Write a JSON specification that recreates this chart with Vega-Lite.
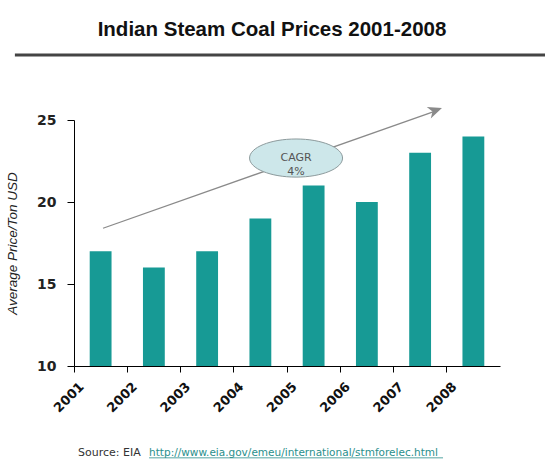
{
  "$schema": "https://vega.github.io/schema/vega-lite/v6.json",
  "width": 426,
  "height": 246,
  "autosize": "none",
  "padding": {"left": 74, "top": 120, "right": 45, "bottom": 98},
  "background": "white",
  "config": {"view": {"stroke": null}, "font": "Liberation Sans"},
  "title": {
    "text": "Indian Steam Coal Prices 2001-2008",
    "font": "Liberation Sans",
    "fontSize": 20.5,
    "fontWeight": "bold",
    "color": "#111111",
    "anchor": "middle",
    "frame": "group",
    "dx": -15,
    "offset": 13
  },
  "layer": [
    {
      "data": {
        "values": [
          {"year": "2001", "price": 17},
          {"year": "2002", "price": 16},
          {"year": "2003", "price": 17},
          {"year": "2004", "price": 19},
          {"year": "2005", "price": 21},
          {"year": "2006", "price": 20},
          {"year": "2007", "price": 23},
          {"year": "2008", "price": 24}
        ]
      },
      "mark": {"type": "bar", "width": {"band": 0.41}, "color": "#179a95"},
      "encoding": {
        "x": {
          "field": "year",
          "type": "ordinal",
          "scale": {"paddingInner": 0, "paddingOuter": 0},
          "axis": {
            "title": null,
            "labelAngle": -45,
            "bandPosition": 0,
            "labelOffset": -23,
            "labelFont": "DejaVu Sans",
            "labelFontSize": 13,
            "labelFontWeight": "bold",
            "labelColor": "#111111",
            "domainColor": "#000000",
            "tickColor": "#000000",
            "tickSize": 6,
            "labelPadding": 8,
            "grid": false
          }
        },
        "y": {
          "field": "price",
          "type": "quantitative",
          "scale": {"domain": [10, 25], "nice": false, "zero": false},
          "axis": {
            "values": [10, 15, 20, 25],
            "title": "Average Price/Ton USD",
            "titleFont": "Liberation Sans",
            "titleFontStyle": "italic",
            "titleFontWeight": "normal",
            "titleFontSize": 13.5,
            "titleColor": "#222222",
            "titlePadding": 17,
            "labelFont": "DejaVu Sans",
            "labelFontSize": 14,
            "labelFontWeight": "bold",
            "labelColor": "#222222",
            "domainColor": "#000000",
            "tickColor": "#000000",
            "tickSize": 7,
            "labelPadding": 11,
            "grid": false
          }
        },
        "y2": {"datum": 10}
      }
    },
    {
      "data": {"values": [{"cagr": "CAGR\n4%", "source": "Source:  EIA", "url": "http://www.eia.gov/emeu/international/stmforelec.html"}]},
      "layer": [
        {
          "mark": {"type": "rule", "color": "#444444", "strokeWidth": 3, "clip": false},
          "encoding": {
            "x": {"datum": -1.11, "type": "quantitative", "scale": {"domain": [0, 8], "nice": false, "zero": false}, "axis": null},
            "x2": {"datum": 8.85},
            "y": {"datum": 28.96, "type": "quantitative", "scale": {"domain": [10, 25]}}
          }
        },
        {
          "mark": {"type": "rule", "color": "#8a8a8a", "strokeWidth": 1.3, "clip": false},
          "encoding": {
            "x": {"datum": 0.545, "type": "quantitative", "scale": {"domain": [0, 8], "nice": false, "zero": false}, "axis": null},
            "x2": {"datum": 6.85},
            "y": {"datum": 18.4, "type": "quantitative", "scale": {"domain": [10, 25]}},
            "y2": {"datum": 25.62}
          }
        },
        {
          "mark": {"type": "point", "shape": "M 0 0 L 0.6 1.4 L 0 1 L -0.6 1.4 Z", "filled": true, "color": "#8a8a8a", "size": 400, "angle": 70.4, "opacity": 1, "clip": false},
          "encoding": {
            "x": {"datum": 6.91, "type": "quantitative", "scale": {"domain": [0, 8], "nice": false, "zero": false}, "axis": null},
            "y": {"datum": 25.73, "type": "quantitative", "scale": {"domain": [10, 25]}}
          }
        },
        {
          "mark": {"type": "point", "shape": "M -1 0 A 1 0.41 0 1 1 1 0 A 1 0.41 0 1 1 -1 0 Z", "filled": true, "fill": "#cde7ea", "stroke": "#8c9a9c", "strokeWidth": 1, "size": 8649, "opacity": 1, "clip": false},
          "encoding": {
            "x": {"datum": 4.17, "type": "quantitative", "scale": {"domain": [0, 8], "nice": false, "zero": false}, "axis": null},
            "y": {"datum": 22.68, "type": "quantitative", "scale": {"domain": [10, 25]}}
          }
        },
        {
          "mark": {"type": "text", "lineBreak": "\n", "font": "DejaVu Sans", "fontSize": 11, "color": "#555555", "align": "center", "baseline": "middle", "lineHeight": 14, "clip": false},
          "encoding": {
            "x": {"datum": 4.17, "type": "quantitative", "scale": {"domain": [0, 8], "nice": false, "zero": false}, "axis": null},
            "y": {"datum": 22.68, "type": "quantitative", "scale": {"domain": [10, 25]}},
            "text": {"field": "cagr"}
          }
        },
        {
          "mark": {"type": "text", "font": "DejaVu Sans", "fontSize": 11, "color": "#333333", "align": "left", "baseline": "alphabetic", "clip": false},
          "encoding": {
            "x": {"datum": 0.075, "type": "quantitative", "scale": {"domain": [0, 8], "nice": false, "zero": false}, "axis": null},
            "y": {"datum": 4.51, "type": "quantitative", "scale": {"domain": [10, 25]}},
            "text": {"field": "source"}
          }
        },
        {
          "mark": {"type": "text", "font": "DejaVu Sans", "fontSize": 10.5, "color": "#2a8f8c", "align": "left", "baseline": "alphabetic", "clip": false},
          "encoding": {
            "x": {"datum": 1.41, "type": "quantitative", "scale": {"domain": [0, 8], "nice": false, "zero": false}, "axis": null},
            "y": {"datum": 4.51, "type": "quantitative", "scale": {"domain": [10, 25]}},
            "text": {"field": "url"}
          }
        },
        {
          "mark": {"type": "rule", "color": "#2a8f8c", "strokeWidth": 0.8, "clip": false},
          "encoding": {
            "x": {"datum": 1.41, "type": "quantitative", "scale": {"domain": [0, 8], "nice": false, "zero": false}, "axis": null},
            "x2": {"datum": 6.93},
            "y": {"datum": 4.4, "type": "quantitative", "scale": {"domain": [10, 25]}}
          }
        }
      ]
    }
  ],
  "resolve": {"scale": {"x": "independent"}, "axis": {"x": "independent"}}
}
